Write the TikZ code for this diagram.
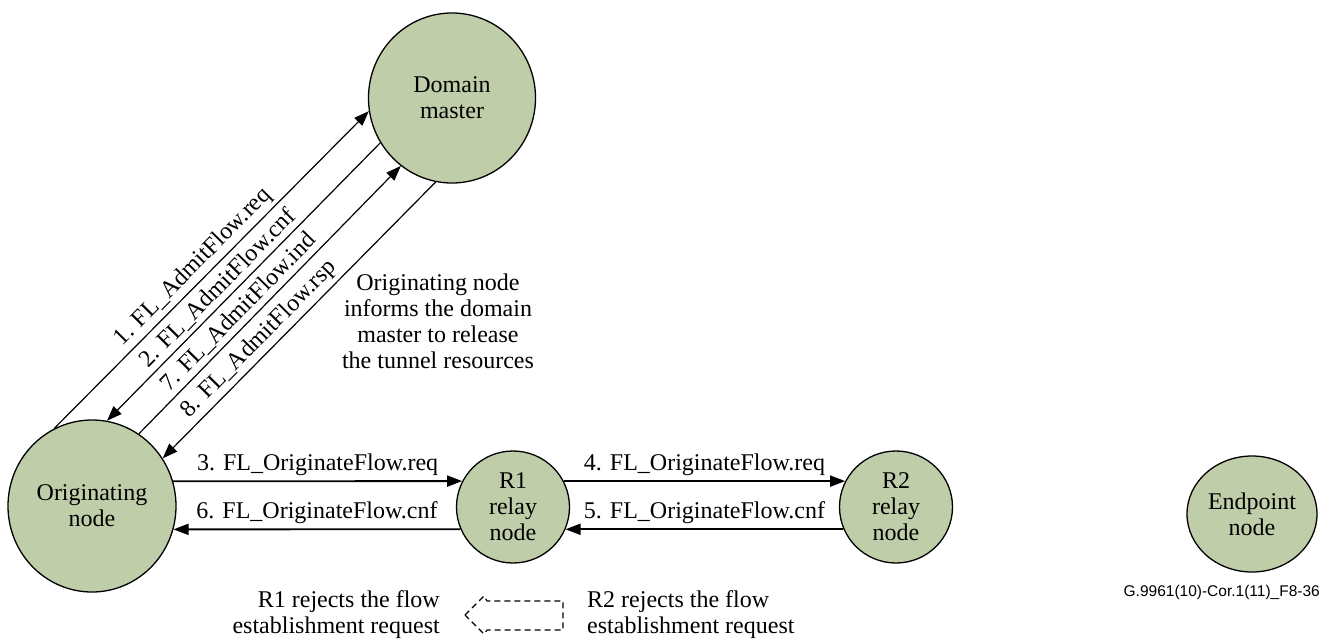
\documentclass[tikz,border=0pt]{standalone}
\usepackage{fontspec}
\setmainfont{Liberation Serif}
\newfontfamily\serifont{Liberation Serif}
\newfontfamily\capfont{Liberation Sans}
\usetikzlibrary{arrows.meta,shapes.geometric}
\definecolor{nodegreen}{RGB}{191,205,169}
\begin{document}
\begin{tikzpicture}[x=1pt,y=-1pt,
  entity/.style={ellipse, draw=black, line width=1.3pt, fill=nodegreen, inner sep=0pt, align=center, font=\serifont\fontsize{24}{26}\selectfont},
  msg/.style={line width=1.8pt, -{Triangle[length=15pt,width=11pt]}},
  dmsg/.style={line width=1.2pt, -{Triangle[length=15pt,width=11pt]}},
  lbl/.style={font=\serifont\fontsize{24}{26}\selectfont, inner sep=2pt},
  hl/.style={lbl, above=3pt},
  dl/.style={lbl, sloped, above=1.5pt},
  capstyle/.style={font=\capfont\fontsize{15.5}{17}\selectfont, inner sep=0pt}
]
\useasboundingbox (0,0) rectangle (1322,640);

\node[entity, minimum width=168pt, minimum height=172pt] (orig) at (92,506) {Originating\\node};
\node[entity, minimum width=167pt, minimum height=170pt] (dm) at (452,98) {Domain\\master};
\node[entity, minimum width=113pt, minimum height=112pt] (r1) at (513,507) {R1\\relay\\node};
\node[entity, minimum width=113pt, minimum height=112pt] (r2) at (896,507) {R2\\relay\\node};
\node[entity, minimum width=130pt, minimum height=116pt] (ep) at (1252,514) {Endpoint\\node};

% diagonal messages
\draw[dmsg] (orig.116) -- node[dl, pos=0.475] {1. FL\_AdmitFlow.req} (dm.189);
\draw[dmsg] (dm.212) -- node[dl, pos=0.558] {2. FL\_AdmitFlow.cnf} (orig.80);
\draw[dmsg] (orig.57) -- node[dl, pos=0.418] {7. FL\_AdmitFlow.ind} (dm.233);
\draw[dmsg] (dm.259) -- node[dl, pos=0.607] {8. FL\_AdmitFlow.rsp} (orig.34);

% horizontal messages
\draw[msg] (orig.17) -- node[hl] {3. FL\_OriginateFlow.req} (r1.153);
\draw[msg] (r1.203) -- node[hl] {6. FL\_OriginateFlow.cnf} (orig.344);
\draw[msg] (r1.27) -- node[hl] {4. FL\_OriginateFlow.req} (r2.153);
\draw[msg] (r2.203) -- node[hl] {5. FL\_OriginateFlow.cnf} (r1.337);

% annotation
\node[lbl, align=center] (note) at (438,321) {Originating node\\informs the domain\\master to release\\the tunnel resources};

% reject notes
\node[lbl, align=right, anchor=east] (r1rej) at (442,615) {R1 rejects the flow\\establishment request};
\node[lbl, align=left, anchor=west] (r2rej) at (585,615) {R2 rejects the flow\\establishment request};
\draw[dashed, line width=1.1pt, dash pattern=on 6pt off 4pt]
  (465,615) -- (484,596) -- (487,601) -- (563,601) -- (563,630) -- (487,630) -- (484,634) -- cycle;

\node[capstyle, anchor=east] (cap) at (1320,592) {G.9961(10)-Cor.1(11)\_F8-36};
\end{tikzpicture}
\end{document}
